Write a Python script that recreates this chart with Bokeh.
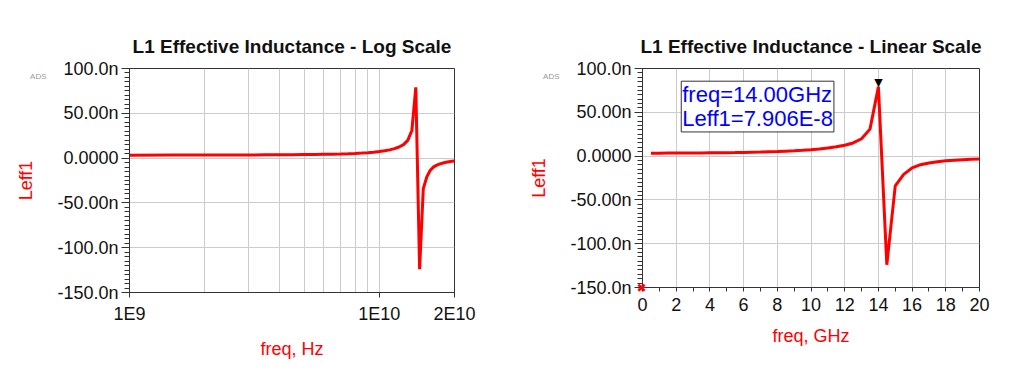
from bokeh.plotting import figure
from bokeh.layouts import row
from bokeh.models import FixedTicker, Label, ColumnDataSource, LinearAxis
from bokeh.core.properties import value
from bokeh.embed import file_html
from bokeh.resources import INLINE

# ---------------- data ----------------
freq_ghz = [0.5, 1.0, 1.5, 2.0, 2.5, 3.0, 3.5, 4.0, 4.5, 5.0,
            5.5, 6.0, 6.5, 7.0, 7.5, 8.0, 8.5, 9.0, 9.5, 10.0,
            10.5, 11.0, 11.5, 12.0, 12.5, 13.0, 13.5, 14.0, 14.5, 15.0,
            15.5, 16.0, 16.5, 17.0, 17.5, 18.0, 18.5, 19.0, 19.5, 20.0]
leff_nh = [3.3, 3.3, 3.4, 3.4, 3.5, 3.5, 3.6, 3.7, 3.8, 3.9,
           4.0, 4.2, 4.4, 4.6, 4.9, 5.2, 5.6, 6.0, 6.6, 7.3,
           8.1, 9.2, 10.6, 12.4, 15.0, 19.8, 30.8, 79.06, -124.0, -34.0,
           -20.8, -13.5, -9.8, -7.8, -6.4, -5.4, -4.7, -4.1, -3.6, -3.2]

y_ticks = [-150, -100, -50, 0, 50, 100]
y_tick_labels = ["-150.0n", "-100.0n", "-50.00n", "0.0000", "50.00n", "100.0n"]
y_minor = list(range(-150, 101, 5))

log_ticks = [1e9, 1e10, 2e10]
log_tick_labels = ["1E9", "1E10", "2E10"]
log_minor = [2e9, 3e9, 4e9, 5e9, 6e9, 7e9, 8e9, 9e9]

lin_ticks = [0, 2, 4, 6, 8, 10, 12, 14, 16, 18, 20]
lin_minor = [1, 3, 5, 7, 9, 11, 13, 15, 17, 19]

title_log = "L1 Effective Inductance - Log Scale"
title_lin = "L1 Effective Inductance - Linear Scale"
ylabel = "Leff1"
xlabel_log = "freq, Hz"
xlabel_lin = "freq, GHz"
watermark = "ADS"
watermark_level = 91   # vertical level (in y units) where the ADS watermark sits
origin_symbol = "\u2716"

FONT = "Liberation Sans"
RED = "#ff0000"
GRID = "#cccccc"
DARK = "#333333"

freq_hz = [f * 1e9 for f in freq_ghz]
src_log = ColumnDataSource(dict(x=freq_hz, y=leff_nh))
src_lin = ColumnDataSource(dict(x=freq_ghz, y=leff_nh))

# marker at the peak
imax = max(range(len(leff_nh)), key=lambda i: leff_nh[i])
mk_f = freq_ghz[imax]
mk_v = leff_nh[imax]
mk_text = "freq=%.2fGHz\nLeff1=%s" % (mk_f, ("%.3E" % (mk_v * 1e-9)).replace("E-0", "E-"))


def style(p, title, xlabel):
    p.title.text = title
    p.title.align = "center"
    p.title.text_font = FONT
    p.title.text_font_size = "19px"
    p.title.text_font_style = "bold"
    p.title.text_color = "#111111"
    p.title.standoff = 24
    p.outline_line_color = DARK
    p.background_fill_color = "white"
    p.border_fill_color = "white"
    for ax in (p.xaxis[0], p.yaxis[0]):
        ax.major_label_text_font = FONT
        ax.major_label_text_font_size = "18px"
        ax.major_label_text_color = "#111111"
        ax.axis_label_text_font = FONT
        ax.axis_label_text_font_size = "18px"
        ax.axis_label_text_font_style = "normal"
        ax.axis_label_text_color = RED
        ax.axis_line_color = DARK
        ax.major_tick_line_color = DARK
        ax.minor_tick_line_color = DARK
        ax.major_tick_in = 0
        ax.minor_tick_in = 0
    p.xaxis.axis_label = xlabel
    p.yaxis.ticker = FixedTicker(ticks=y_ticks, minor_ticks=y_minor)
    p.yaxis.major_label_overrides = dict(zip(y_ticks, y_tick_labels))
    p.yaxis.major_tick_out = 8
    p.yaxis.minor_tick_out = 5
    p.yaxis.major_label_standoff = 3
    p.xgrid.grid_line_color = GRID
    p.ygrid.grid_line_color = GRID
    # outer left axis: carries the grey "ADS" watermark and the red "Leff1" label
    outer = LinearAxis(ticker=FixedTicker(ticks=[watermark_level], minor_ticks=[]),
                       major_label_overrides={watermark_level: watermark},
                       axis_line_color=None, major_tick_line_color=None,
                       minor_tick_line_color=None,
                       major_tick_out=0, major_tick_in=0,
                       major_label_standoff=8,
                       major_label_text_font=FONT, major_label_text_font_size="8px",
                       major_label_text_color="#999999",
                       axis_label=ylabel, axis_label_standoff=-9,
                       axis_label_text_font=FONT, axis_label_text_font_size="18px",
                       axis_label_text_font_style="normal", axis_label_text_color=RED)
    p.add_layout(outer, "left")


# ---------------- log plot ----------------
p1 = figure(frame_width=325, frame_height=224,
            min_border_left=129, min_border_right=58,
            min_border_top=68, min_border_bottom=85,
            x_axis_type="log", x_range=(log_ticks[0], log_ticks[-1]),
            y_range=(y_ticks[0], y_ticks[-1]),
            output_backend="svg", toolbar_location=None)
style(p1, title_log, xlabel_log)
p1.xaxis.ticker = FixedTicker(ticks=log_ticks, minor_ticks=log_minor)
p1.xaxis.major_label_overrides = dict(zip(log_ticks, log_tick_labels))
p1.xaxis.major_tick_out = 5
p1.xaxis.minor_tick_out = 0
p1.xaxis.major_label_standoff = 6
p1.xaxis.axis_label_standoff = 12
p1.xgrid.minor_grid_line_color = GRID
p1.line("x", "y", source=src_log, line_color=RED, line_width=3)

# ---------------- linear plot ----------------
p2 = figure(frame_width=337, frame_height=219,
            min_border_left=130, min_border_right=45,
            min_border_top=68, min_border_bottom=90,
            x_range=(lin_ticks[0], lin_ticks[-1]),
            y_range=(y_ticks[0], y_ticks[-1]),
            output_backend="svg", toolbar_location=None)
style(p2, title_lin, xlabel_lin)
p2.xaxis.ticker = FixedTicker(ticks=lin_ticks, minor_ticks=lin_minor)
p2.xaxis.major_tick_out = 4
p2.xaxis.minor_tick_out = 4
p2.xaxis.major_label_standoff = 6
p2.xaxis.axis_label_standoff = 12
p2.line("x", "y", source=src_lin, line_color=RED, line_width=3)
p2.text(x=[mk_f], y=[mk_v], text=["\u25BC"], text_align="center", text_baseline="bottom",
        text_font=value("DejaVu Sans"), text_font_size="11px", text_color="black", y_offset=2)
# red cross marking the plot origin: drawn as an (unclipped) axis label so it can
# straddle the frame corner like in ADS
origin_axis = LinearAxis(ticker=FixedTicker(ticks=[y_ticks[0]], minor_ticks=[]),
                         major_label_overrides={y_ticks[0]: origin_symbol},
                         axis_line_color=None, major_tick_line_color=None,
                         minor_tick_line_color=None, major_tick_out=0, major_tick_in=0,
                         major_label_standoff=-120,
                         major_label_text_font="DejaVu Sans",
                         major_label_text_font_size="12px",
                         major_label_text_color=RED)
p2.add_layout(origin_axis, "left")
p2.add_layout(Label(x=2.3, y=85.5, text=mk_text, text_font=FONT, text_font_size="22px",
                    text_color="#0000ff", text_baseline="top", text_line_height=0.95,
                    background_fill_color="white", border_line_color=DARK,
                    padding=1))

layout = row(p1, p2)
open("out.html", "w").write(file_html(layout, INLINE))
